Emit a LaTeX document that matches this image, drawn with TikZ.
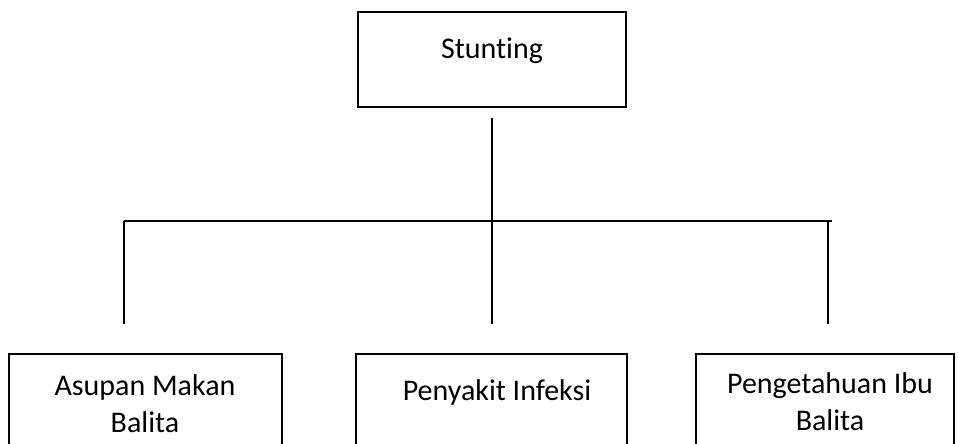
\documentclass[tikz,border=0pt]{standalone}
\usepackage{fontspec}
\setmainfont{Carlito}[Ligatures=NoCommon]
\begin{document}
\begin{tikzpicture}[x=1pt,y=-1pt,
		kotak/.style={draw,line width=2.2pt,anchor=north west,inner sep=0pt,outer sep=0pt},
		teks/.style={inner sep=0pt,align=center,font=\fontsize{30}{37}\selectfont},
		garis/.style={line width=1.3pt}]
		\useasboundingbox(0,0)rectangle(958,444);
		% kotak
		\node[kotak,minimum width=268,minimum height=95](stunting)at(358,12){};
		\node[kotak,minimum width=273,minimum height=130](asupan)at(9,354){};
		\node[kotak,minimum width=271,minimum height=130](infeksi)at(356,354){};
		\node[kotak,minimum width=258,minimum height=130](pengetahuan)at(696,354){};
		% teks
		\node[teks,anchor=base](tstunting)at(492,59){Stunting};
		\node[teks,anchor=north](tasupan)at(145,374){Asupan Makan\\Balita};
		\node[teks,anchor=base](tinfeksi)at(497,400){Penyakit Infeksi};
		\node[teks,anchor=north](tpengetahuan)at(830,372){Pengetahuan Ibu\\Balita};
		% garis
		\coordinate(tengah)at(492,221);
		\coordinate(kiri)at(124,221);
		\coordinate(kanan)at(832,221);
		\coordinate(turun)at(828,221);
		\coordinate(ujungA)at(124,324);
		\coordinate(ujungB)at(492,324);
		\coordinate(ujungC)at(828,324);
		\draw[garis]([yshift=-11pt]stunting.south)--(tengah);
		\draw[garis](kiri)--(kanan);
		\draw[garis](kiri)--(ujungA);
		\draw[garis](tengah)--(ujungB);
		\draw[garis](turun)--(ujungC);
	\end{tikzpicture}
\end{document}
